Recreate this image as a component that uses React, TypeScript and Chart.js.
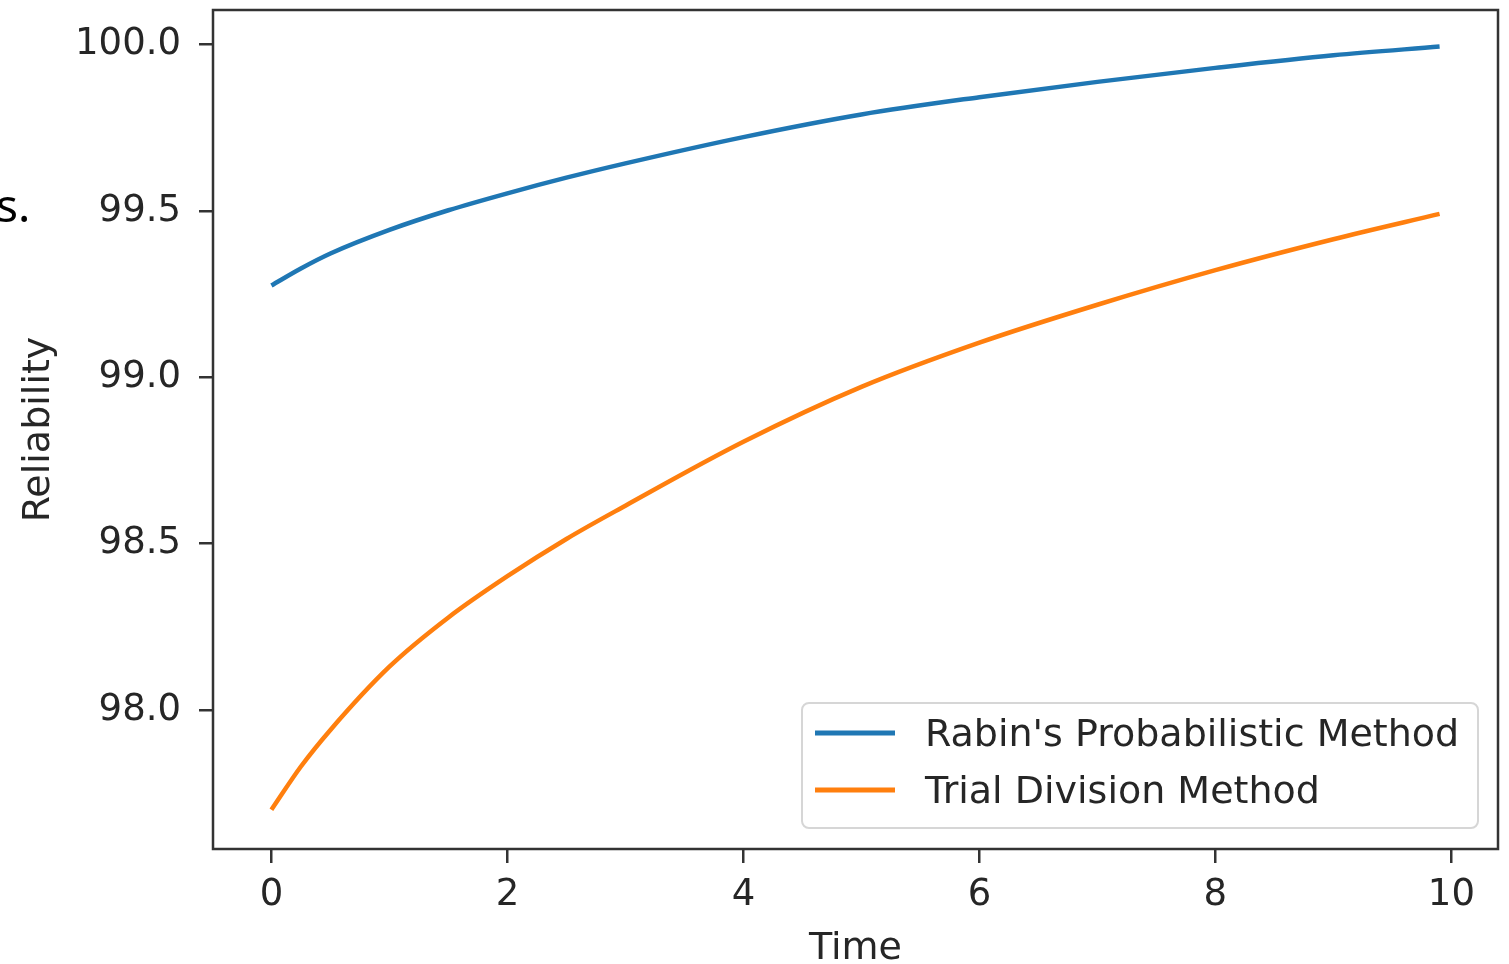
import React, { useEffect, useRef } from "react";
import { Chart, registerables } from "chart.js";

Chart.register(...registerables);

const timeValues = [0, 0.25, 0.5, 1, 1.5, 2, 2.5, 3, 4, 5, 6, 7, 8, 9, 9.9];
const rabinValues = [99.276, 99.327, 99.372, 99.443, 99.502, 99.553, 99.6, 99.643, 99.722, 99.79, 99.842, 99.888, 99.93, 99.968, 99.994];
const trialValues = [97.7, 97.83, 97.94, 98.13, 98.278, 98.402, 98.514, 98.614, 98.806, 98.971, 99.104, 99.218, 99.322, 99.415, 99.491];
const xTicks = [0, 2, 4, 6, 8, 10];
const yTicks = [98.0, 98.5, 99.0, 99.5, 100.0];
const seriesLabels = ["Rabin's Probabilistic Method", "Trial Division Method"];
const seriesColors = ["#1f77b4", "#ff7f0e"];

const FONT = "'DejaVu Sans', sans-serif";
const TEXT = "#262626";
const SPINE = "#333333";

const framePlugin = {
  id: "frame",
  afterDatasetsDraw(chart: any) {
    const { ctx, chartArea } = chart;
    ctx.save();
    ctx.strokeStyle = SPINE;
    ctx.lineWidth = 2.5;
    ctx.strokeRect(chartArea.left, chartArea.top, chartArea.right - chartArea.left, chartArea.bottom - chartArea.top);
    ctx.restore();
  },
  afterDraw(chart: any) {
    const { ctx } = chart;
    const bx = 802, by = 703, bw = 676, bh = 125;
    ctx.save();
    ctx.beginPath();
    (ctx as any).roundRect(bx, by, bw, bh, 7);
    ctx.fillStyle = "rgba(255,255,255,0.85)";
    ctx.fill();
    ctx.strokeStyle = "#d6d6d6";
    ctx.lineWidth = 2;
    ctx.stroke();
    chart.data.datasets.forEach((ds: any, i: number) => {
      const y = 733 + i * 57;
      ctx.beginPath();
      ctx.moveTo(815, y);
      ctx.lineTo(895, y);
      ctx.strokeStyle = ds.borderColor;
      ctx.lineWidth = 5;
      ctx.stroke();
      ctx.fillStyle = TEXT;
      ctx.font = `38px ${FONT}`;
      ctx.textBaseline = "middle";
      ctx.textAlign = "left";
      ctx.fillText(ds.label, 925, y + 3);
    });
    ctx.restore();
  },
};

export default function App() {
  const canvasRef = useRef<HTMLCanvasElement | null>(null);

  useEffect(() => {
    if (!canvasRef.current) return;
    const makePoints = (vals: number[]) => timeValues.map((t, i) => ({ x: t, y: vals[i] }));
    const chart = new Chart(canvasRef.current, {
      type: "line",
      data: {
        datasets: [rabinValues, trialValues].map((vals, i) => ({
          label: seriesLabels[i],
          data: makePoints(vals),
          borderColor: seriesColors[i],
          backgroundColor: seriesColors[i],
          borderWidth: 4.5,
          pointRadius: 0,
          fill: false,
          cubicInterpolationMode: "monotone" as const,
        })),
      },
      options: {
        responsive: false,
        animation: false,
        layout: { padding: { left: 0, right: 11, top: 10, bottom: 0 } },
        plugins: { legend: { display: false }, tooltip: { enabled: false } },
        scales: {
          x: {
            type: "linear",
            min: -0.495,
            max: 10.395,
            afterFit(scale: any) {
              scale.height = 115;
              scale.paddingLeft = 0;
              scale.paddingRight = 0;
            },
            afterBuildTicks(scale: any) { scale.ticks = xTicks.map((v) => ({ value: v })); },
            border: { display: false },
            grid: { drawOnChartArea: false, drawTicks: true, tickLength: 14, color: SPINE, lineWidth: 2.5 },
            ticks: {
              padding: 10,
              color: TEXT,
              font: { family: FONT, size: 37 },
              maxRotation: 0,
              callback: (v: any) => String(v),
            },
            title: {
              display: true,
              text: "Time",
              color: TEXT,
              font: { family: FONT, size: 38, lineHeight: 0.8 },
              padding: { top: 0, bottom: 0 },
            },
          },
          y: {
            type: "linear",
            min: 97.582,
            max: 100.104,
            afterFit(scale: any) {
              scale.width = 213;
              scale.paddingTop = 0;
              scale.paddingBottom = 0;
            },
            afterBuildTicks(scale: any) { scale.ticks = yTicks.map((v) => ({ value: v })); },
            border: { display: false },
            grid: { drawOnChartArea: false, drawTicks: true, tickLength: 14, color: SPINE, lineWidth: 2.5 },
            ticks: {
              padding: 18,
              color: TEXT,
              font: { family: FONT, size: 37 },
              callback: (v: any) => Number(v).toFixed(1),
            },
            title: {
              display: true,
              text: "Reliability",
              color: TEXT,
              font: { family: FONT, size: 38, lineHeight: 0.8 },
              padding: { top: 24, bottom: 0 },
            },
          },
        },
      },
      plugins: [framePlugin],
    });
    return () => chart.destroy();
  }, []);

  return (
    <div style={{ position: "fixed", left: 0, top: 0, width: 1509, height: 964, overflow: "hidden", background: "#fff" }}>
      <canvas ref={canvasRef} width={1509} height={964} style={{ position: "absolute", left: 0, top: 0, display: "block" }} />
      <span
        style={{
          position: "absolute",
          left: -4,
          top: 181,
          fontFamily: "'Noto Sans', sans-serif",
          fontSize: 46,
          lineHeight: "46px",
          color: "#000",
          whiteSpace: "nowrap",
        }}
      >
        s.
      </span>
    </div>
  );
}
